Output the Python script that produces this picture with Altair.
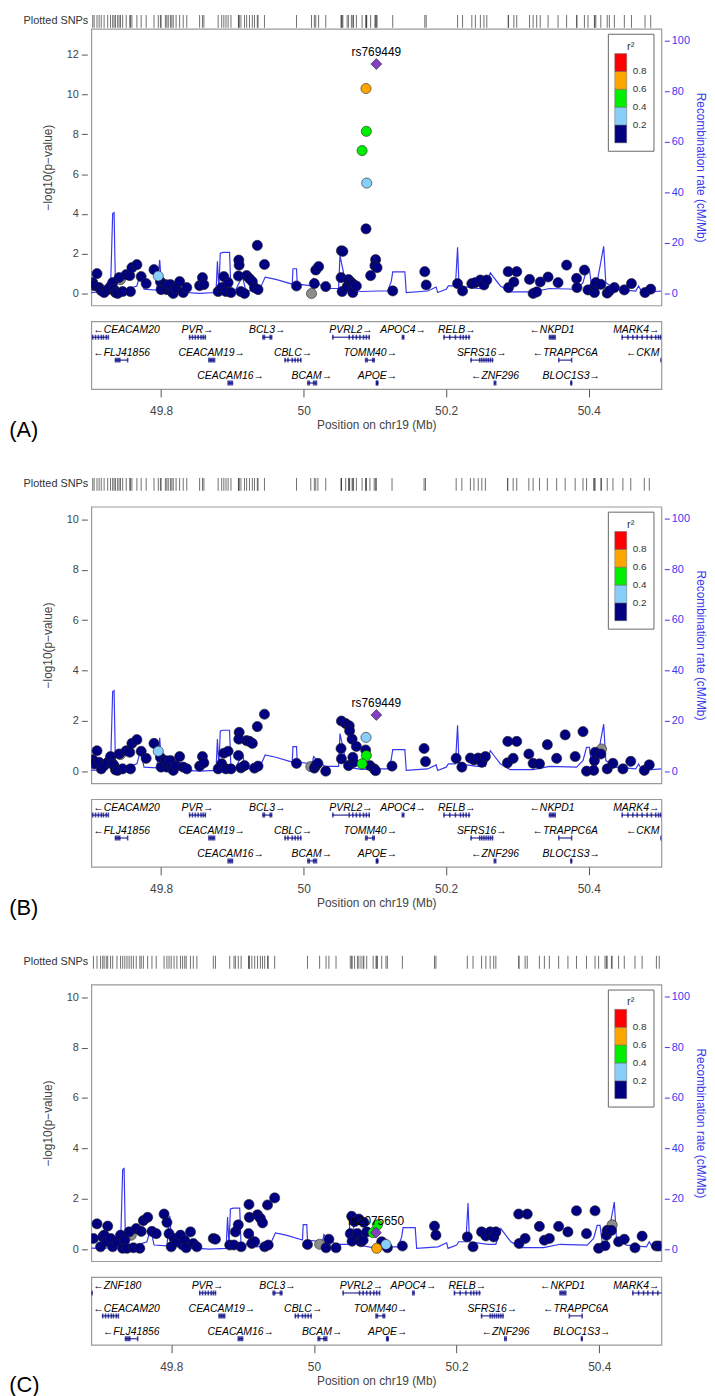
import altair as alt
import pandas as pd

# ---------------- data ----------------
A_pos = [49.704, 49.710, 49.706, 49.713, 49.716, 49.720, 49.725, 49.729, 49.732, 49.734,
         49.736, 49.739, 49.743, 49.741, 49.746, 49.751, 49.756, 49.757, 49.759, 49.766,
         49.772, 49.779, 49.790, 49.796, 49.799, 49.800, 49.806, 49.808, 49.810, 49.813,
         49.815, 49.817, 49.821, 49.826, 49.831, 49.836, 49.854, 49.858, 49.860, 49.880,
         49.885, 49.888, 49.891, 49.894, 49.898, 49.909, 49.9095, 49.9085, 49.912, 49.917,
         49.920, 49.924, 49.928, 49.931, 49.935, 49.936, 49.945, 49.990, 50.011, 50.015,
         50.017, 50.021, 50.031, 50.053, 50.055, 50.0525, 50.054, 50.063, 50.061, 50.067,
         50.070, 50.069, 50.074, 50.082, 50.088, 50.0875, 50.0885, 50.0875, 50.094, 50.101,
         50.100, 50.103, 50.125, 50.170, 50.172, 50.216, 50.223, 50.236, 50.241, 50.248,
         50.253, 50.257, 50.287, 50.2875, 50.295, 50.299, 50.317, 50.322, 50.327, 50.332,
         50.343, 50.357, 50.369, 50.383, 50.3835, 50.394, 50.399, 50.408, 50.4085, 50.410,
         50.417, 50.426, 50.429, 50.436, 50.450, 50.460, 50.479, 50.487]
A_logp = [0.55, 1.00, 0.40, 0.30, 0.15, 0.05, 0.20, 0.35, 0.55, 0.20,
          0.05, 0.00, 0.70, 0.80, 0.10, 0.95, 0.90, 0.10, 1.30, 1.45,
          0.85, 0.50, 1.20, 0.88, 0.60, 0.20, 0.45, 0.20, 0.40, 0.45,
          0.10, 0.00, 0.25, 0.60, 0.05, 0.30, 0.40, 0.80, 0.45, 0.10,
          0.30, 0.85, 0.10, 0.55, 0.05, 1.68, 1.43, 0.88, 0.10, 0.00,
          0.90, 0.75, 0.60, 0.30, 2.42, 0.20, 1.46, 0.38, 0.00, 0.50,
          1.18, 1.35, 0.35, 2.15, 2.12, 0.80, 0.10, 0.70, 0.35, 0.55,
          0.45, 0.05, 0.38, 7.18, 8.15, 10.30, 5.55, 3.25, 0.90, 1.70,
          1.40, 1.30, 0.13, 1.10, 0.43, 0.50, 0.13, 0.50, 0.55, 0.68,
          0.43, 0.68, 1.10, 0.30, 0.58, 1.10, 0.71, 0.00, 0.08, 0.58,
          0.83, 0.55, 1.43, 0.76, 0.30, 1.18, 0.18, 0.05, 0.38, 0.55,
          0.46, 0.02, 0.13, 0.30, 0.18, 0.50, 0.05, 0.22]
A_r2 = [0.1] * 12 + [None] + [0.1] * 10 + [0.3] + [0.1] * 34 + [None] + [0.1] * 14 + \
       [0.5, 0.5, 0.7, 0.3] + [0.1] * 41

B_pos = [49.704, 49.710, 49.706, 49.713, 49.716, 49.720, 49.725, 49.729, 49.732, 49.734,
         49.736, 49.739, 49.743, 49.741, 49.746, 49.751, 49.756, 49.757, 49.759, 49.766,
         49.772, 49.779, 49.790, 49.796, 49.799, 49.800, 49.806, 49.808, 49.810, 49.813,
         49.815, 49.817, 49.821, 49.826, 49.831, 49.836, 49.854, 49.858, 49.860, 49.880,
         49.885, 49.888, 49.891, 49.894, 49.898, 49.9095, 49.909, 49.9085, 49.912, 49.917,
         49.920, 49.924, 49.928, 49.931, 49.945, 49.936, 49.935, 49.990, 50.010, 50.015,
         50.017, 50.020, 50.031, 50.053, 50.059, 50.064, 50.0645, 50.0525, 50.053, 50.068,
         50.074, 50.063, 50.070, 50.069, 50.0875, 50.087, 50.088, 50.082, 50.093, 50.099,
         50.101, 50.124, 50.169, 50.171, 50.214, 50.222, 50.234, 50.239, 50.245, 50.250,
         50.255, 50.286, 50.2865, 50.294, 50.299, 50.316, 50.322, 50.331, 50.342, 50.355,
         50.367, 50.381, 50.392, 50.397, 50.407, 50.408, 50.409, 50.417, 50.418, 50.426,
         50.434, 50.448, 50.459, 50.478, 50.485]
B_logp = [0.45, 0.81, 0.29, 0.35, 0.09, 0.22, 0.35, 0.58, 0.29, 0.22,
          0.05, 0.03, 0.66, 0.68, 0.09, 0.81, 0.75, 0.09, 1.10, 1.25,
          0.79, 0.51, 1.10, 0.79, 0.55, 0.16, 0.42, 0.16, 0.35, 0.42,
          0.16, 0.03, 0.22, 0.58, 0.16, 0.09, 0.20, 0.58, 0.33, 0.09,
          0.29, 0.71, 0.09, 0.79, 0.09, 1.54, 1.27, 0.62, 0.13, 0.22,
          1.21, 1.18, 1.10, 0.12, 2.26, 0.20, 1.77, 0.31, 0.18, 0.12,
          0.22, 0.31, 0.00, 1.99, 1.89, 1.80, 1.60, 0.90, 0.49, 1.27,
          0.98, 0.22, 0.35, 0.55, 1.34, 0.84, 0.62, 0.29, 0.22, 0.09,
          0.02, 0.20, 0.90, 0.38, 0.51, 0.16, 0.52, 0.45, 0.52, 0.35,
          0.58, 0.33, 1.18, 0.51, 1.18, 0.68, 0.31, 0.29, 1.05, 0.51,
          1.44, 0.58, 1.57, 0.00, 0.03, 0.42, 0.75, 0.68, 0.88, 0.09,
          0.31, 0.09, 0.39, 0.03, 0.25]
B_r2 = [0.1] * 12 + [None] + [0.1] * 10 + [0.3] + [0.1] * 34 + [None] + [0.1] * 15 + \
       [0.3, 0.1, 0.5, 0.5] + [0.1] * 30 + [None] + [0.1] * 6

C_pos = [49.691, 49.696, 49.701, 49.704, 49.706, 49.711, 49.709, 49.715, 49.718, 49.724,
         49.729, 49.732, 49.735, 49.744, 49.741, 49.738, 49.747, 49.751, 49.756, 49.758,
         49.761, 49.767, 49.773, 49.779, 49.790, 49.794, 49.797, 49.800, 49.804, 49.808,
         49.813, 49.816, 49.819, 49.821, 49.827, 49.831, 49.836, 49.859, 49.862, 49.882,
         49.888, 49.890, 49.894, 49.898, 49.909, 49.9095, 49.9085, 49.913, 49.917, 49.921,
         49.925, 49.928, 49.931, 49.935, 49.936, 49.945, 49.991, 50.008, 50.017, 50.021,
         50.031, 50.053, 50.057, 50.051, 50.0535, 50.063, 50.061, 50.066, 50.070, 50.069,
         50.074, 50.083, 50.089, 50.088, 50.095, 50.101, 50.103, 50.124, 50.169, 50.171,
         50.215, 50.223, 50.235, 50.241, 50.247, 50.252, 50.255, 50.287, 50.2875, 50.296,
         50.299, 50.316, 50.323, 50.330, 50.343, 50.356, 50.368, 50.382, 50.394, 50.399,
         50.408, 50.410, 50.411, 50.418, 50.417, 50.427, 50.435, 50.450, 50.460, 50.480,
         50.484]
C_logp = [0.42, 1.00, 0.09, 0.48, 0.55, 0.91, 0.29, 0.42, 0.09, 0.29,
          0.55, 0.03, 0.35, 0.55, 0.68, 0.03, 0.05, 0.81, 0.03, 0.70,
          1.13, 1.26, 0.70, 0.61, 1.39, 1.06, 0.61, 0.09, 0.42, 0.29,
          0.55, 0.16, 0.35, 0.05, 0.68, 0.22, 0.09, 0.42, 0.39, 0.16,
          0.16, 0.68, 0.96, 0.09, 1.77, 1.26, 0.61, 0.22, 0.29, 1.36,
          1.22, 1.04, 0.09, 1.75, 0.16, 2.03, 0.18, 0.19, 0.05, 0.39,
          0.05, 1.30, 1.09, 0.61, 0.31, 1.19, 0.61, 0.29, 1.06, 0.35,
          0.68, 0.65, 0.96, 0.03, 0.29, 0.18, 0.05, 0.12, 0.91, 0.55,
          0.48, 0.09, 0.68, 0.52, 0.68, 0.48, 0.68, 1.39, 0.22, 0.42,
          1.39, 0.90, 0.35, 0.42, 0.90, 0.68, 1.52, 0.61, 1.52, 0.03,
          0.13, 0.55, 0.74, 0.96, 0.74, 0.29, 0.39, 0.05, 0.51, 0.12,
          0.12]
C_r2 = [0.1] * 13 + [None] + [0.1] * 43 + [None] + [0.1] * 13 + \
       [0.5, 0.5, 0.7, 0.1, 0.3] + [0.1] * 27 + [None] + [0.1] * 7

lead_pos = [50.102, 50.102, 50.087]
lead_logp = [11.53, 2.23, 0.65]
lead_name = ["rs769449", "rs769449", "rs2075650"]

rec_pos = [49.688, 49.702, 49.711, 49.729, 49.732, 49.734, 49.736, 49.752, 49.766, 49.771,
           49.776, 49.794, 49.798, 49.801, 49.817, 49.854, 49.877, 49.879, 49.881, 49.883,
           49.887, 49.896, 49.898, 49.905, 49.914, 49.919, 49.938, 49.946, 49.961, 49.984,
           49.985, 49.990, 49.991, 50.012, 50.014, 50.019, 50.030, 50.049, 50.051, 50.056,
           50.061, 50.081, 50.105, 50.118, 50.123, 50.125, 50.142, 50.144, 50.174, 50.186,
           50.188, 50.200, 50.203, 50.213, 50.216, 50.218, 50.244, 50.255, 50.262, 50.267,
           50.276, 50.290, 50.322, 50.345, 50.383, 50.392, 50.397, 50.401, 50.404, 50.410,
           50.421, 50.424, 50.438, 50.466, 50.470, 50.475, 50.502]
rec_rate = [0.5, 0.4, 0.6, 1.7, 31.6, 32.0, 1.0, 1.7, 3.0, 8.2,
            1.7, 1.4, 13.3, 1.4, 0.7, 0.1, 0.4, 12.8, 1.7, 16.0,
            16.3, 16.3, 1.0, 1.7, 6.8, 1.0, 1.4, 6.5, 5.6, 3.7,
            9.8, 9.8, 3.7, 3.0, 5.9, 4.3, 2.0, 2.0, 15.0, 8.2,
            1.7, 0.8, 1.0, 1.0, 4.9, 8.6, 8.6, 0.4, 1.0, 2.6,
            0.4, 1.7, 3.0, 3.0, 18.3, 3.0, 2.0, 2.0, 8.2, 6.3,
            3.0, 0.7, 0.7, 2.0, 1.7, 4.3, 9.5, 9.5, 3.0, 1.7,
            18.7, 4.3, 1.7, 1.0, 3.0, 0.4, 1.0]

gene_name = ["ZNF180", "CEACAM20", "FLJ41856", "PVR", "CEACAM19", "CEACAM16", "BCL3",
             "CBLC", "BCAM", "PVRL2", "TOMM40", "APOE", "APOC4", "RELB", "SFRS16",
             "ZNF296", "NKPD1", "TRAPPC6A", "BLOC1S3", "MARK4", "CKM"]
gene_start = [49.675, 49.703, 49.735, 49.839, 49.867, 49.894, 49.942, 49.973, 50.005, 50.040,
              50.087, 50.102, 50.138, 50.196, 50.234, 50.267, 50.344, 50.358, 50.374, 50.446,
              50.501]
gene_end = [49.690, 49.726, 49.753, 49.863, 49.875, 49.901, 49.956, 49.997, 50.018, 50.093,
            50.100, 50.105, 50.141, 50.234, 50.266, 50.270, 50.353, 50.376, 50.377, 50.520,
            50.520]
gene_strand = ["-", "-", "-", "+", "+", "+", "+", "+", "+", "+", "+", "+", "+", "+", "+",
               "-", "-", "-", "+", "+", "-"]
gene_row_ab = [None, 1, 2, 1, 2, 3, 1, 2, 3, 1, 2, 3, 1, 1, 2, 3, 1, 2, 3, 1, 2]
gene_row_c = [1, 2, 3, 1, 2, 3, 1, 2, 3, 1, 2, 3, 1, 1, 2, 3, 1, 2, 3, 1, None]
gene_exons = [
    [49.689],
    [49.704, 49.708, 49.712, 49.716, 49.719, 49.723, 49.726],
    [49.736, 49.738, 49.740, 49.742, 49.753],
    [49.840, 49.844, 49.848, 49.852, 49.856, 49.859, 49.862],
    [49.867, 49.869, 49.871, 49.873, 49.875],
    [49.894, 49.896, 49.898, 49.900],
    [49.943, 49.945, 49.953, 49.955],
    [49.974, 49.978, 49.984, 49.988, 49.992, 49.996],
    [50.006, 50.008, 50.014, 50.016, 50.018],
    [50.041, 50.064, 50.069, 50.074, 50.079, 50.084, 50.088, 50.092],
    [50.087, 50.089, 50.097, 50.099],
    [50.102, 50.103, 50.104],
    [50.1385, 50.1405],
    [50.197, 50.205, 50.213, 50.220, 50.224, 50.228, 50.232],
    [50.235, 50.247, 50.250, 50.253, 50.256, 50.259, 50.262, 50.265],
    [50.2675, 50.2695],
    [50.345, 50.347, 50.349, 50.351, 50.353],
    [50.358, 50.376],
    [50.375, 50.376],
    [50.447, 50.455, 50.462, 50.468, 50.475, 50.482, 50.488, 50.494, 50.498, 50.501],
    [50.5015],
]

panel_labels = ["(A)", "(B)", "(C)"]
x_domains = [[49.702, 50.502], [49.702, 50.502], [49.688, 50.487]]
y_domains = [[-0.598, 13.30], [-0.484, 10.5], [-0.484, 10.5]]
y_ticks = [[0, 2, 4, 6, 8, 10, 12], [0, 2, 4, 6, 8, 10], [0, 2, 4, 6, 8, 10]]

# ---------------- style ----------------
NAVY = "#000080"
LBLUE = "#87CEFA"
GREEN = "#00EE00"
ORANGE = "#FFA500"
RED = "#FF0000"
GRAYPT = "#8C8C8C"
PURPLE = "#8440C0"
BLUE = "#3838F0"
TXT = "#444444"
FONT = "Liberation Sans"
W = 575
H_MAIN = 279
H_GENE = 68.3
H_RUG = 13

rec_df = pd.DataFrame({"pos": rec_pos, "rate": rec_rate})


def xs(dom):
    return alt.Scale(domain=dom, nice=False, zero=False)


def spacer(h):
    return alt.Chart(pd.DataFrame({"v": [0]})).mark_point(opacity=0, size=1).encode(
        x=alt.value(1), y=alt.value(1)
    ).properties(width=W, height=h, view=alt.ViewBackground(stroke="transparent"))


def rug(pos, dom):
    df = pd.DataFrame({"pos": pos})
    ticks = alt.Chart(df).mark_tick(color="#333333", thickness=1, size=H_RUG).encode(
        x=alt.X("pos:Q", scale=xs(dom), axis=None)
    )
    lab = alt.Chart(pd.DataFrame({"t": ["Plotted SNPs"]})).mark_text(
        align="right", baseline="middle", dx=-3, fontSize=11, color="#333333"
    ).encode(x=alt.datum(dom[0]), text="t:N")
    return alt.layer(ticks, lab).properties(
        width=W, height=H_RUG, view=alt.ViewBackground(stroke="transparent")
    )


def main(pos, logp, r2, i):
    dom = x_domains[i]
    df = pd.DataFrame({"pos": pos, "logp": logp, "r2": r2})
    gray = df[df["r2"].isna()]
    col = df[df["r2"].notna()].sort_values("r2", kind="stable")
    X = alt.X("pos:Q", scale=xs(dom), axis=None)
    yax = alt.Axis(values=y_ticks[i], domain=False, tickSize=6, offset=4, tickColor="#555555",
                   labelFontSize=11, labelColor=TXT, labelPadding=3, grid=False,
                   title="−log10(p−value)", titleFontSize=12, titleFontWeight="normal",
                   titleColor=TXT, titlePadding=12)
    Y = alt.Y("logp:Q", scale=alt.Scale(domain=y_domains[i], nice=False, zero=False), axis=yax)
    rec = alt.Chart(rec_df).mark_line(color=BLUE, strokeWidth=1.2, clip=True).encode(
        x=X,
        y=alt.Y("rate:Q", scale=alt.Scale(domain=[-4.7, 104.7], nice=False, zero=False),
                axis=alt.Axis(orient="right", values=[0, 20, 40, 60, 80, 100], domain=False,
                              tickSize=5, offset=3, tickColor=BLUE, labelColor=BLUE,
                              labelFontSize=11, labelPadding=2, grid=False,
                              title="Recombination rate (cM/Mb)", titleColor=BLUE,
                              titleFontSize=12, titleFontWeight="normal", titlePadding=4)),
    )
    g = alt.Chart(gray).mark_circle(size=105, opacity=1, fill=GRAYPT, stroke="#222222",
                                    strokeWidth=0.6, clip=True).encode(x=X, y=Y)
    p = alt.Chart(col).mark_circle(size=105, opacity=1, stroke="#222222", strokeWidth=0.6,
                                   clip=True).encode(
        x=X, y=Y,
        color=alt.Color("r2:Q",
                        scale=alt.Scale(type="threshold", domain=[0.2, 0.4, 0.6, 0.8],
                                        range=[NAVY, LBLUE, GREEN, ORANGE, RED]),
                        legend=alt.Legend(type="gradient", title="r²", orient="none",
                                          legendX=521, legendY=5,
                                          direction="vertical", gradientLength=90,
                                          gradientThickness=12, labelFontSize=10,
                                          labelColor="#333333", labelOffset=6, format=".1f",
                                          labelOverlap=False, titleFontSize=11,
                                          titleFontWeight="normal", titleColor="#333333",
                                          titleAnchor="middle", titlePadding=2, padding=7,
                                          strokeColor="#666666", fillColor="white",
                                          gradientStrokeColor="#666666",
                                          gradientStrokeWidth=0.5)),
    )
    ld = pd.DataFrame({"pos": [lead_pos[i]], "logp": [lead_logp[i]], "name": [lead_name[i]]})
    d = alt.Chart(ld).mark_point(shape="diamond", filled=True, size=120, fill=PURPLE,
                                 stroke="#222222", strokeWidth=0.6, opacity=1).encode(x=X, y=Y)
    tx = alt.Chart(ld).mark_text(dy=-12, fontSize=12, color="black", baseline="middle").encode(
        x=X, y=Y, text="name:N")
    inner = alt.layer(g, p, d, tx)
    return alt.layer(rec, inner).resolve_scale(y="independent").properties(width=W, height=H_MAIN)


def genes(i, rows):
    dom = x_domains[i]
    ppm = W / (dom[1] - dom[0])
    m = 2.0 / ppm
    spans, exons, labs = [], [], []
    for k, nm in enumerate(gene_name):
        r = rows[k]
        if r is None:
            continue
        s, e = gene_start[k], gene_end[k]
        if e < dom[0] or s > dom[1]:
            continue
        spans.append({"s": s, "e": e, "row": r})
        for ex in gene_exons[k]:
            if dom[0] <= ex <= dom[1]:
                exons.append({"x": ex, "row": r})
        label = "←" + nm if gene_strand[k] == "-" else nm + "→"
        mid = (s + e) / 2
        half = (len(nm) * 0.68 + 1.0) * 10.5 / 2 / ppm
        if mid - half < dom[0] + m:
            labs.append({"x": dom[0] + m, "row": r, "t": label, "a": "left"})
        elif mid + half > dom[1] - m:
            labs.append({"x": dom[1] - m, "row": r, "t": label, "a": "right"})
        else:
            labs.append({"x": mid, "row": r, "t": label, "a": "center"})
    xax = alt.Axis(values=[49.8, 50, 50.2, 50.4], format="~g", domain=False, tickSize=8,
                   tickColor="#555555", labelFontSize=12, labelColor=TXT, labelPadding=9,
                   grid=False, title="Position on chr19 (Mb)", titleFontSize=12,
                   titleFontWeight="normal", titleColor=TXT, titlePadding=3)
    ysc = alt.Scale(domain=[0.609, 3.565], reverse=True, nice=False, zero=False)

    def X(f):
        return alt.X(f, scale=xs(dom), axis=xax)

    Yr = alt.Y("row:Q", scale=ysc, axis=None)
    sp = alt.Chart(pd.DataFrame(spans)).mark_rule(color=NAVY, strokeWidth=1, yOffset=7,
                                                  clip=True).encode(x=X("s:Q"), x2="e:Q", y=Yr)
    ex = alt.Chart(pd.DataFrame(exons)).mark_tick(orient="vertical", color=NAVY, size=5,
                                                  thickness=1.6, yOffset=7, clip=True).encode(
        x=X("x:Q"), y=Yr)
    layers = [sp, ex]
    ldf = pd.DataFrame(labs)
    for a in ["left", "center", "right"]:
        sub = ldf[ldf["a"] == a]
        if len(sub):
            layers.append(alt.Chart(sub).mark_text(align=a, baseline="middle", fontSize=10.5,
                                                   fontStyle="italic", color="black").encode(
                x=X("x:Q"), y=Yr, text="t:N"))
    return alt.layer(*layers).properties(
        width=W, height=H_GENE,
        title=alt.TitleParams(text=panel_labels[i], orient="bottom", anchor="start",
                              frame="group", dx=-82.7, dy=-15, fontSize=22,
                              fontWeight="normal", color="black", font=FONT))


panels = [(A_pos, A_logp, A_r2, gene_row_ab), (B_pos, B_logp, B_r2, gene_row_ab),
          (C_pos, C_logp, C_r2, gene_row_c)]
cells = []
for i, (ps, lp, r2, rows) in enumerate(panels):
    if i > 0:
        cells.append(spacer(89))
    cells.append(rug(ps + [lead_pos[i]], x_domains[i]))
    cells.append(spacer(1 if i == 0 else 15.3))
    cells.append(main(ps, lp, r2, i))
    cells.append(spacer(15.7))
    cells.append(genes(i, rows))

chart = alt.vconcat(*cells, spacing=0, bounds="flush", padding=0).resolve_scale(
    x="independent", y="independent", color="independent"
).configure(font=FONT).configure_view(stroke="#9A9A9A", strokeWidth=1.2)

chart.save("out.html", embed_options={"renderer": "svg", "actions": False})
